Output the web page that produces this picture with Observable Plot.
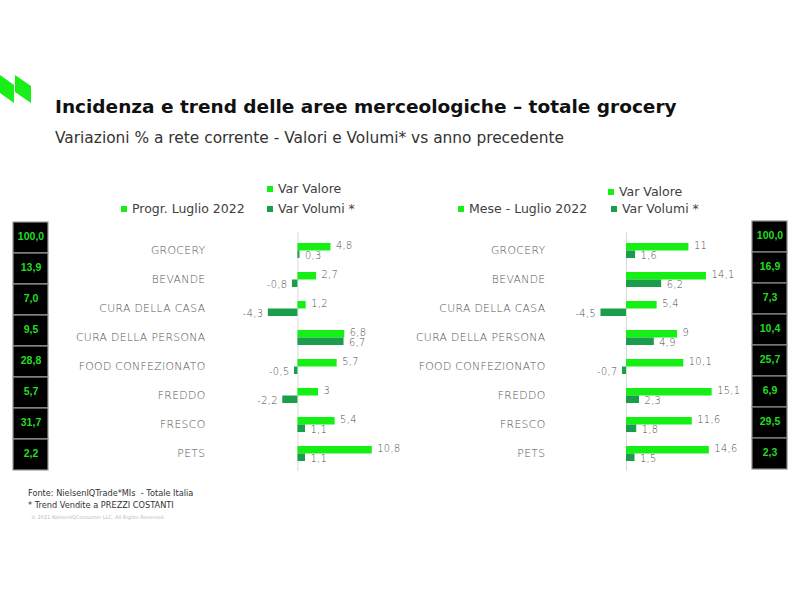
<!DOCTYPE html>
<html>
<head>
<meta charset="utf-8">
<script src="https://cdn.jsdelivr.net/npm/d3@7"></script>
<script src="https://cdn.jsdelivr.net/npm/@observablehq/plot@0.6"></script>
<style>
  html, body { margin: 0; padding: 0; background: #fff; }
  #page { position: relative; width: 800px; height: 600px; overflow: hidden; font-family: "DejaVu Sans", sans-serif; color: #404040; }
  .abs { position: absolute; white-space: nowrap; }
  #title { left: 55px; top: 96px; font-size: 18.5px; font-weight: bold; color: #111; }
  #subtitle { left: 55px; top: 129px; font-size: 15.4px; color: #333; }
  .leg { font-size: 12.5px; color: #404040; display: flex; align-items: center; }
  .sw { display: inline-block; width: 6px; height: 6px; margin-right: 5px; }
  .foot { font-size: 8.2px; color: #333; left: 28px; }
  .copy { font-size: 5px; color: #bbb; left: 31px; }
</style>
</head>
<body>
<div id="page">
  <svg class="abs" style="left:0;top:70px" width="40" height="40" viewBox="0 70 40 40">
    <polygon points="-3,73 14,85 14,103 -3,91" fill="#19ee19"/>
    <polygon points="15,75 31,86 31,103 15,92" fill="#19ee19"/>
  </svg>
  <div id="title" class="abs">Incidenza e trend delle aree merceologiche – totale grocery</div>
  <div id="subtitle" class="abs">Variazioni % a rete corrente - Valori e Volumi* vs anno precedente</div>
  <div id="legends"></div>
  <div id="leftBoxes" class="abs" style="left:13px;top:221px"></div>
  <div id="leftBars" class="abs" style="left:0px;top:222px"></div>
  <div id="rightBars" class="abs" style="left:340px;top:222px"></div>
  <div id="rightBoxes" class="abs" style="left:752px;top:220px"></div>
  <div class="abs foot" style="top:488px">Fonte: NielsenIQTrade*MIs&nbsp; - Totale Italia</div>
  <div class="abs foot" style="top:500px">* Trend Vendite a PREZZI COSTANTI</div>
  <div class="abs copy" style="top:514px">© 2021 NielsenIQConsumer LLC. All Rights Reserved.</div>
</div>
<script>
// ---- data ----
const categories = ["GROCERY", "BEVANDE", "CURA DELLA CASA", "CURA DELLA PERSONA", "FOOD CONFEZIONATO", "FREDDO", "FRESCO", "PETS"];
const seriesNames = ["Var Valore", "Var Volumi *"];
const progrLabel = "Progr. Luglio 2022";
const meseLabel = "Mese - Luglio 2022";
const progrValore = [4.8, 2.7, 1.2, 6.8, 5.7, 3, 5.4, 10.8];
const progrVolumi = [0.3, -0.8, -4.3, 6.7, -0.5, -2.2, 1.1, 1.1];
const meseValore = [11, 14.1, 5.4, 9, 10.1, 15.1, 11.6, 14.6];
const meseVolumi = [1.6, 6.2, -4.5, 4.9, -0.7, 2.3, 1.8, 1.5];
const progrIncidenza = [100.0, 13.9, 7.0, 9.5, 28.8, 5.7, 31.7, 2.2];
const meseIncidenza = [100.0, 16.9, 7.3, 10.4, 25.7, 6.9, 29.5, 2.3];

const colorValore = "#14ef14";
const colorVolumi = "#1a9e4b";
const fmt = v => String(v).replace(".", ",");
const fmt1 = v => v.toFixed(1).replace(".", ",");

function barPanel(valore, volumi, domain) {
  const val = categories.map((c, i) => ({cat: c, v: valore[i]}));
  const vol = categories.map((c, i) => ({cat: c, v: volumi[i]}));
  const half = 7.5;
  const textStyle = {fill: "#4a4a4a", fontSize: 9.8, fontWeight: 300};
  return Plot.plot({
    width: 410, height: 259,
    marginLeft: 210, marginRight: 10, marginTop: 10, marginBottom: 10,
    x: {domain, axis: null},
    y: {domain: categories, paddingInner: 0.49, paddingOuter: 0.3, label: null, tickSize: 0, tickPadding: 5},
    style: {fontFamily: "DejaVu Sans, sans-serif", fontSize: "10.8px", letterSpacing: "0.35px", color: "#555", fontWeight: 300, background: "transparent", overflow: "visible"},
    marks: [
      Plot.ruleX([0], {stroke: "#d9d9d9", strokeWidth: 1}),
      Plot.barX(val, {x: "v", y: "cat", fill: colorValore, insetBottom: half}),
      Plot.barX(vol, {x: "v", y: "cat", fill: colorVolumi, insetTop: half}),
      Plot.text(val.filter(d => d.v >= 0), {x: "v", y: "cat", text: d => fmt(d.v), textAnchor: "start", dx: 5, dy: -5, ...textStyle}),
      Plot.text(val.filter(d => d.v < 0), {x: "v", y: "cat", text: d => fmt(d.v), textAnchor: "end", dx: -5, dy: -5, ...textStyle}),
      Plot.text(vol.filter(d => d.v >= 0), {x: "v", y: "cat", text: d => fmt(d.v), textAnchor: "start", dx: 5, dy: 5, ...textStyle}),
      Plot.text(vol.filter(d => d.v < 0), {x: "v", y: "cat", text: d => fmt(d.v), textAnchor: "end", dx: -5, dy: 5, ...textStyle})
    ]
  });
}

function boxPanel(values, stroke) {
  const rows = categories.map((c, i) => ({cat: c, v: values[i]}));
  return Plot.plot({
    width: 35, height: 249,
    margin: 0,
    y: {domain: categories, padding: 0, axis: null},
    style: {background: "transparent", overflow: "visible"},
    marks: [
      Plot.cell(rows, {y: "cat", fill: "black", stroke, strokeWidth: 1.2}),
      Plot.text(rows, {y: "cat", text: d => fmt1(d.v), fill: "#22dd22", fontWeight: "bold", fontSize: 10.5, fontFamily: "Liberation Sans, Arial, sans-serif", dy: -1})
    ]
  });
}

document.getElementById("leftBars").append(barPanel(progrValore, progrVolumi, [-12.7, 14.9]));
document.getElementById("rightBars").append(barPanel(meseValore, meseVolumi, [-13.4, 20.1]));
document.getElementById("leftBoxes").append(boxPanel(progrIncidenza, "#9a9a9a"));
document.getElementById("rightBoxes").append(boxPanel(meseIncidenza, "#8a8a8a"));

// ---- legends ----
function legendItem(label, color, left, top) {
  const d = document.createElement("div");
  d.className = "abs leg";
  d.style.left = left + "px";
  d.style.top = top + "px";
  const s = document.createElement("span");
  s.className = "sw";
  s.style.background = color;
  d.append(s, document.createTextNode(label));
  document.getElementById("legends").append(d);
}
legendItem(seriesNames[0], colorValore, 267, 181);
legendItem(progrLabel, colorValore, 121, 201);
legendItem(seriesNames[1], colorVolumi, 267, 201);
legendItem(seriesNames[0], colorValore, 608, 184);
legendItem(meseLabel, colorValore, 458, 201);
legendItem(seriesNames[1], colorVolumi, 611, 201);
</script>
</body>
</html>
